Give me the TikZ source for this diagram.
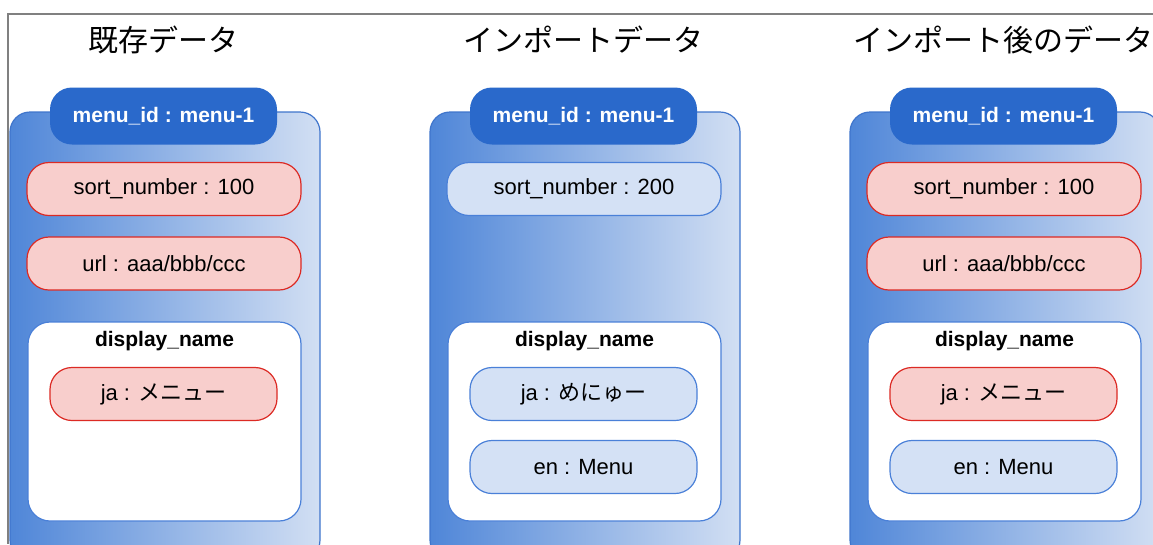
\documentclass[tikz,border=0pt]{standalone}
\usepackage{fontspec}
\setmainfont{Liberation Sans}
\newfontfamily\jpfont{Noto Sans CJK JP}
\usetikzlibrary{positioning}

\definecolor{framegray}{HTML}{808080}
\definecolor{boxleft}{HTML}{4F86D8}
\definecolor{boxright}{HTML}{D2DFF3}
\definecolor{boxline}{HTML}{3F75CC}
\definecolor{headblue}{HTML}{2A69CB}
\definecolor{pinkfill}{HTML}{F8CECC}
\definecolor{pinkline}{HTML}{DC2A24}
\definecolor{pillfill}{HTML}{D4E1F5}
\definecolor{pillline}{HTML}{4A80D8}

\begin{document}
\begin{tikzpicture}[x=1pt,y=-1pt,
  title/.style={font=\jpfont\fontsize{30}{34}\selectfont},
  outerbox/.style={draw=boxline,line width=1.2pt,rounded corners=20pt,
    left color=boxleft,right color=boxright,
    minimum width=310pt,minimum height=448pt},
  head/.style={fill=headblue,text=white,rounded corners=22pt,
    font=\bfseries\fontsize{21}{25}\selectfont,
    minimum width=227pt,minimum height=57pt},
  pill/.style={rounded corners=22pt,line width=1.2pt,
    font=\fontsize{22}{26}\selectfont,minimum height=53pt},
  oldval/.style={pill,draw=pinkline,fill=pinkfill},
  newval/.style={pill,draw=pillline,fill=pillfill},
  wide/.style={minimum width=274pt},
  narrow/.style={minimum width=227pt},
  namebox/.style={draw=pillline,fill=white,rounded corners=22pt,
    line width=1.2pt,minimum width=273pt,minimum height=199pt},
  namelabel/.style={font=\bfseries\fontsize{21}{25}\selectfont}]
\clip (0,0) rectangle (1153,544);
\fill[white] (0,0) rectangle (1153,544);
% Frame
\draw[framegray,line width=1.5pt] (1153,14) -- (8,14) -- (8,544);
% Existing data
\begin{scope}
\node[title] (old-title) at (163,40) {既存データ};
\node[outerbox] (old-box) at (165,336) {};
\node[head] (old-head) at (163.5,116) {menu\_id : menu-1};
\node[oldval,wide] (old-sort) at (164,189) {sort\_number : 100};
\node[oldval,wide] (old-url) at (164,263.5) {url : aaa/bbb/ccc};
\node[namebox] (old-disp) at (164.5,421.5) {};
\node[namelabel] (old-name) at (164.5,341) {display\_name};
\node[oldval,narrow] (old-ja) at (163.5,394) {ja : {\jpfont メニュー}};
\end{scope}
% Imported data
\begin{scope}[xshift=420pt]
\node[title] (imp-title) at (163,40) {インポートデータ};
\node[outerbox] (imp-box) at (165,336) {};
\node[head] (imp-head) at (163.5,116) {menu\_id : menu-1};
\node[newval,wide] (imp-sort) at (164,189) {sort\_number : 200};
\node[namebox] (imp-disp) at (164.5,421.5) {};
\node[namelabel] (imp-name) at (164.5,341) {display\_name};
\node[newval,narrow] (imp-ja) at (163.5,394) {ja : {\jpfont めにゅー}};
\node[newval,narrow] (imp-en) at (163.5,467) {en : Menu};
\end{scope}
% Data after import
\begin{scope}[xshift=840pt]
\node[title] (new-title) at (163,40) {インポート後のデータ};
\node[outerbox] (new-box) at (165,336) {};
\node[head] (new-head) at (163.5,116) {menu\_id : menu-1};
\node[oldval,wide] (new-sort) at (164,189) {sort\_number : 100};
\node[oldval,wide] (new-url) at (164,263.5) {url : aaa/bbb/ccc};
\node[namebox] (new-disp) at (164.5,421.5) {};
\node[namelabel] (new-name) at (164.5,341) {display\_name};
\node[oldval,narrow] (new-ja) at (163.5,394) {ja : {\jpfont メニュー}};
\node[newval,narrow] (new-en) at (163.5,467) {en : Menu};
\end{scope}
\end{tikzpicture}
\end{document}
